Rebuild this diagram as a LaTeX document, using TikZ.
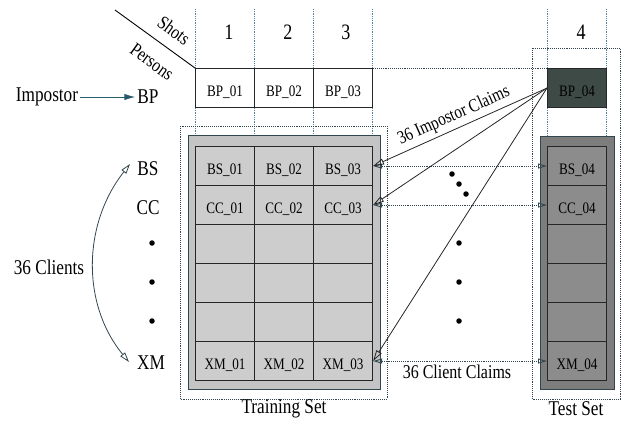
\documentclass[tikz,border=0pt]{standalone}
\usepackage{fontspec}
\setmainfont{Liberation Serif}[FakeStretch=0.82]
\usetikzlibrary{arrows.meta}
\definecolor{vline}{RGB}{80,130,160}
\definecolor{dline}{RGB}{50,70,80}
\definecolor{trainbg}{RGB}{196,196,196}
\definecolor{traincell}{RGB}{205,205,205}
\definecolor{testbg}{RGB}{125,125,125}
\definecolor{testcell}{RGB}{140,140,140}
\definecolor{bpdark}{RGB}{62,74,70}
\definecolor{arrowteal}{RGB}{40,90,110}
\begin{document}
\begin{tikzpicture}[x=1pt,y=-1pt,
  cellbase/.style={draw=black!85, line width=1.1pt, minimum width=59pt, minimum height=39pt,
    inner sep=0pt, anchor=north west, text height=16pt, text depth=0pt,
    font=\fontsize{16}{18}\selectfont},
  bpcell/.style={cellbase, fill=white},
  tcell/.style={cellbase, fill=traincell},
  scell/.style={cellbase, fill=testcell},
  bigtxt/.style={font=\fontsize{21}{24}\selectfont, inner sep=2pt},
  headtxt/.style={font=\fontsize{22}{26}\selectfont, inner sep=1pt},
  coldot/.style={vline, densely dotted, line width=0.8pt},
  boxdot/.style={dline, densely dotted, line width=0.9pt},
  graybox/.style={draw=dline, line width=1pt},
  claim/.style={-{Triangle[open,length=11pt,width=6pt]}, line width=0.8pt, black!85},
  dotarrow/.style={{Triangle[open,length=9pt,width=5pt]}-{Triangle[open,length=9pt,width=5pt]}, dline, densely dotted, line width=0.9pt},
  bigdot/.style={circle, fill=black, minimum size=5.5pt, inner sep=0pt}
]
\useasboundingbox (0,0) rectangle (623,421);

% column guide lines
\foreach \x in {195,254,313,372,547,606}{
  \coordinate (gt\x) at (\x,9);
  \coordinate (gb\x) at (\x,389);
  \draw[coldot] (gt\x) -- (gb\x);
}

% dotted set boxes
\draw[boxdot] (180,126) rectangle (387,399);
\draw[boxdot] (532,48) rectangle (620,399);

% gray set boxes
\draw[graybox, fill=trainbg] (188,135) rectangle (380,389);
\draw[graybox, fill=testbg] (540,136) rectangle (614,389);

% headers
\node[headtxt] (h1) at (229,32) {1};
\node[headtxt] (h2) at (288,32) {2};
\node[headtxt] (h3) at (346,32) {3};
\node[headtxt] (h4) at (581,32) {4};

% BP row
\node[bpcell] (bp1) at (195,68) {BP\_01};
\node[bpcell] (bp2) at (254,68) {BP\_02};
\node[bpcell] (bp3) at (313,68) {BP\_03};
\node[cellbase, fill=bpdark] (bp4) at (547,68) {BP\_04};

% diagonal header
\coordinate (dg) at (115,10);
\draw[line width=0.9pt] (dg) -- (bp1.north west);
\node[font=\fontsize{19}{22}\selectfont, rotate=-36, inner sep=0pt] (shots) at (174,30.5) {Shots};
\node[font=\fontsize{19}{22}\selectfont, rotate=-36, inner sep=0pt] (persons) at (152,62) {Persons};

% training cells
\foreach \c in {1,2,3}{
  \node[tcell] (t1\c) at ({195+59*(\c-1)},146) {BS\_0\c};
  \node[tcell] (t2\c) at ({195+59*(\c-1)},185) {CC\_0\c};
  \foreach \r in {3,4,5}{
    \node[tcell] (t\r\c) at ({195+59*(\c-1)},{146+39*(\r-1)}) {};
  }
  \node[tcell] (t6\c) at ({195+59*(\c-1)},341) {XM\_0\c};
}
% test cells
\node[scell] (s1) at (547,146) {BS\_04};
\node[scell] (s2) at (547,185) {CC\_04};
\node[scell] (s3) at (547,224) {};
\node[scell] (s4) at (547,263) {};
\node[scell] (s5) at (547,302) {};
\node[scell] (s6) at (547,341) {XM\_04};

% top dotted link
\draw[boxdot] (bp3.north east) -- (bp4.north west);

% left labels
\node[bigtxt] (imp) at (47,97) {Impostor};
\node[bigtxt] (bp) at (148,97) {BP};
\draw[-{Latex[length=11pt,width=6.5pt]}, arrowteal, line width=1pt] (imp) -- (bp);
\node[bigtxt] (bs) at (148,169) {BS};
\node[bigtxt] (cc) at (148,208) {CC};
\node[bigtxt] (xm) at (151,363) {XM};
\node[bigdot] (ld1) at (152,243) {};
\node[bigdot] (ld2) at (152,282) {};
\node[bigdot] (ld3) at (152,321) {};
\node[bigtxt] (cl) at (49,267) {36 Clients};
\coordinate (ca) at (130,164);
\coordinate (cb) at (129,362);
\draw[{Triangle[open,length=10pt,width=6pt]}-{Triangle[open,length=10pt,width=6pt]}, line width=0.8pt, dline]
  (ca) .. controls (82,225) and (82,305) .. (cb);

% claims
\draw[dotarrow] (t13.east) -- (s1.west);
\draw[dotarrow] (t23.east) -- (s2.west);
\draw[dotarrow] (t63.east) -- (s6.west);
\draw[claim] (bp4.west) -- (t13.east);
\draw[claim] (bp4.west) -- (t23.east);
\draw[claim] (bp4.west) -- (t63.east);
\node[font=\fontsize{18.5}{21}\selectfont, rotate=24, inner sep=0pt] (ic) at (454,116) {36 Impostor Claims};
\node[font=\fontsize{19.5}{22}\selectfont, inner sep=0pt] (cc2) at (457,372) {36 Client Claims};

% middle dots
\node[bigdot] (m1) at (452,174) {};
\node[bigdot] (m2) at (459,184) {};
\node[bigdot] (m3) at (466,194) {};
\node[bigdot] (m4) at (459,243) {};
\node[bigdot] (m5) at (459,282) {};
\node[bigdot] (m6) at (459,321) {};

% set titles
\node[bigtxt] (trs) at (284,409) {Training Set};
\node[bigtxt] (tss) at (576,409) {Test Set};
\end{tikzpicture}
\end{document}
